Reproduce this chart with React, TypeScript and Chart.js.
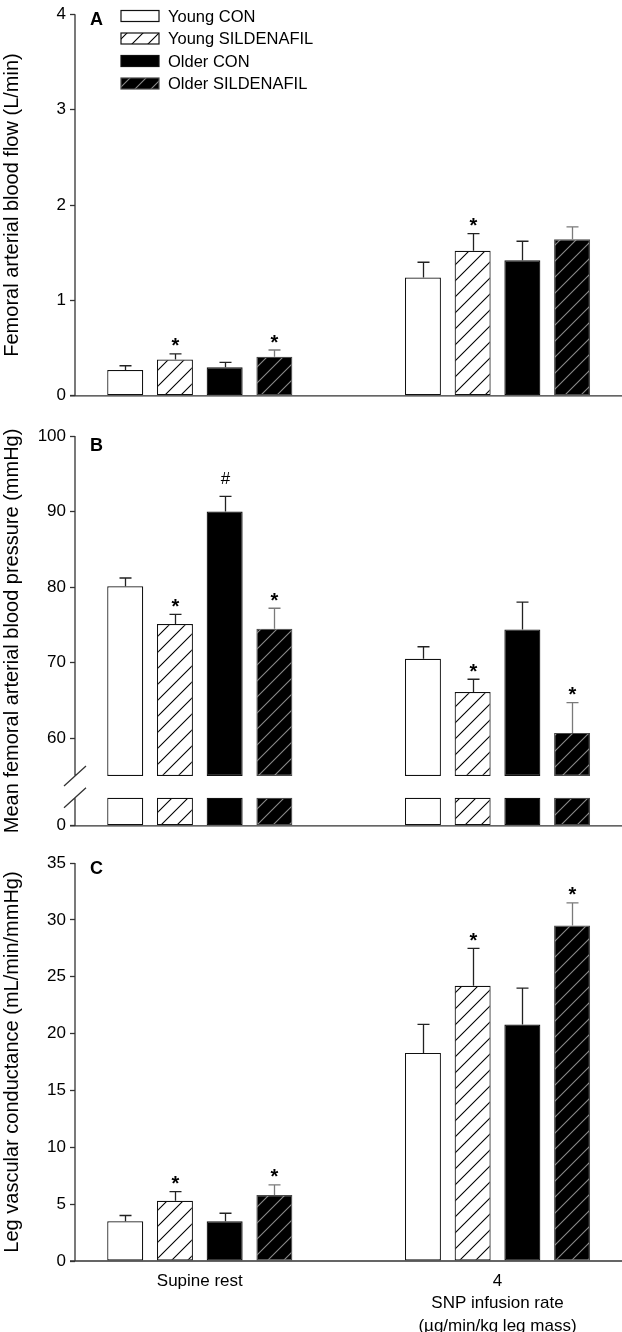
import React, { useEffect, useRef } from 'react';
import { Chart, registerables } from 'chart.js';

Chart.register(...registerables);

const FONT = '"Liberation Sans", Arial, Helvetica, sans-serif';

// ---- data ----
const groupPositions = [1, 2];
const groupLabels = ['Supine rest', '4'];
const xAxisTitle = ['SNP infusion rate', '(µg/min/kg leg mass)'];
const seriesNames = ['Young CON', 'Young SILDENAFIL', 'Older CON', 'Older SILDENAFIL'];

// Panel A: femoral arterial blood flow (L/min); rows = series, cols = groups
const flowMean = [[0.27, 1.24], [0.38, 1.52], [0.3, 1.42], [0.41, 1.64]];
const flowSem = [[0.045, 0.16], [0.06, 0.18], [0.05, 0.2], [0.07, 0.13]];
const flowMarks = [['', ''], ['*', '*'], ['', ''], ['*', '']];
const flowTicks = [0, 1, 2, 3, 4];

// Panel B: mean femoral arterial blood pressure (mmHg)
const pressureMean = [[80.1, 70.5], [75.1, 66.1], [90.0, 74.4], [74.5, 60.7]];
const pressureSem = [[1.1, 1.6], [1.3, 1.7], [2.0, 3.6], [2.7, 4.0]];
const pressureMarks = [['', ''], ['*', '*'], ['#', ''], ['*', '*']];
const pressureTicks = [0, 60, 70, 80, 90, 100];

// Panel C: leg vascular conductance (mL/min/mmHg)
const conductanceMean = [[3.5, 18.3], [5.3, 24.2], [3.5, 20.8], [5.8, 29.5]];
const conductanceSem = [[0.5, 2.5], [0.8, 3.3], [0.7, 3.2], [0.9, 2.0]];
const conductanceMarks = [['', ''], ['*', '*'], ['', ''], ['*', '*']];
const conductanceTicks = [0, 5, 10, 15, 20, 25, 30, 35];

// ---- broken axis configuration for panel B (display units) ----
const BP_BREAK_FROM = 55; // upper segment starts at this value
const BP_UPPER_AT = 6.6; // display position of the upper segment start
const BP_STUB_TOP = 3.7; // display height of the lower stub
const BP_SHIFT = BP_BREAK_FROM - BP_UPPER_AT;

// ---- layout / style ----
const X_MIN = 0.5808;
const X_MAX = 2.4182;
const CAT_PCT = 0.668;
const BAR_PCT = 0.724;
const TICK_SIZE = 17;
const TITLE_SIZE = 20;
const seriesBorders = ['#111111', '#111111', '#111111', '#4a4a4a'];
const errColors = ['#222222', '#222222', '#222222', '#7a7a7a'];
const legendRows = [16, 38.5, 61, 83.5];

function hatch(ctx: CanvasRenderingContext2D, bg: string, fg: string) {
  const c = document.createElement('canvas');
  c.width = 16;
  c.height = 16;
  const g = c.getContext('2d')!;
  g.fillStyle = bg;
  g.fillRect(0, 0, 16, 16);
  g.strokeStyle = fg;
  g.lineWidth = 1.1;
  g.beginPath();
  g.moveTo(-2, 18);
  g.lineTo(18, -2);
  g.moveTo(-2, 2);
  g.lineTo(2, -2);
  g.moveTo(14, 18);
  g.lineTo(18, 14);
  g.stroke();
  return ctx.createPattern(c, 'repeat')!;
}

type Spec = {
  letter: string;
  letterY: number;
  title: string;
  mean: number[][];
  sem: number[][];
  marks: string[][];
  ticks: number[];
  max: number;
  broken?: boolean;
  showX?: boolean;
  legend?: boolean;
  padTop: number;
  padBottom: number;
};

function makePanel(canvas: HTMLCanvasElement, spec: Spec) {
  const ctx = canvas.getContext('2d')!;
  const fills: any[] = ['#ffffff', hatch(ctx, '#ffffff', '#000000'), '#000000', hatch(ctx, '#000000', '#8a8a8a')];
  const disp = (v: number) => (spec.broken ? (v === 0 ? 0 : v - BP_SHIFT) : v);
  const datasets: any[] = [];
  const mainIndex: number[] = [];
  seriesNames.forEach((name, s) => {
    const common = {
      label: name,
      backgroundColor: fills[s],
      borderColor: seriesBorders[s],
      borderWidth: 1.2,
      borderSkipped: false,
      categoryPercentage: CAT_PCT,
      barPercentage: BAR_PCT,
      stack: 'S' + s,
    };
    if (spec.broken) {
      datasets.push({ ...common, data: groupPositions.map((x) => ({ x, y: BP_STUB_TOP })) });
      datasets.push({
        ...common,
        backgroundColor: 'rgba(0,0,0,0)',
        borderWidth: 0,
        data: groupPositions.map((x) => ({ x, y: BP_UPPER_AT - BP_STUB_TOP })),
      });
      mainIndex.push(datasets.length);
      datasets.push({ ...common, data: groupPositions.map((x, j) => ({ x, y: spec.mean[s][j] - BP_BREAK_FROM })) });
    } else {
      mainIndex.push(datasets.length);
      datasets.push({ ...common, data: groupPositions.map((x, j) => ({ x, y: spec.mean[s][j] })) });
    }
  });

  const errPlugin = {
    id: 'errbars',
    afterDatasetsDraw(chart: any) {
      const c = chart.ctx as CanvasRenderingContext2D;
      const y = chart.scales.y;
      seriesNames.forEach((_, s) => {
        const meta = chart.getDatasetMeta(mainIndex[s]);
        meta.data.forEach((el: any, j: number) => {
          const top = y.getPixelForValue(disp(spec.mean[s][j] + spec.sem[s][j]));
          const x = Math.round(el.x) + 0.5;
          c.save();
          c.strokeStyle = errColors[s];
          c.lineWidth = 1.3;
          c.beginPath();
          c.moveTo(x, el.y);
          c.lineTo(x, top);
          c.moveTo(x - 6, top);
          c.lineTo(x + 6, top);
          c.stroke();
          const m = spec.marks[s][j];
          if (m) {
            c.fillStyle = '#000';
            c.textAlign = 'center';
            c.textBaseline = 'alphabetic';
            if (m === '*') {
              c.font = `bold 20px ${FONT}`;
              c.fillText(m, x, top - 1.5);
            } else {
              c.font = `17px ${FONT}`;
              c.fillText(m, x, top - 12);
            }
          }
          c.restore();
        });
      });
    },
  };

  const axesPlugin = {
    id: 'axesdeco',
    afterDraw(chart: any) {
      const c = chart.ctx as CanvasRenderingContext2D;
      const a = chart.chartArea;
      const y = chart.scales.y;
      c.save();
      c.strokeStyle = '#333';
      c.lineWidth = 1.3;
      c.beginPath();
      c.moveTo(a.left - 5, a.bottom);
      c.lineTo(a.right, a.bottom);
      if (spec.broken) {
        const hi = y.getPixelForValue(BP_UPPER_AT);
        const lo = y.getPixelForValue(BP_STUB_TOP);
        c.moveTo(a.left, a.top);
        c.lineTo(a.left, hi);
        c.moveTo(a.left, lo);
        c.lineTo(a.left, a.bottom);
        for (const p of [hi, lo]) {
          c.moveTo(a.left - 11, p + 10);
          c.lineTo(a.left + 11, p - 10);
        }
      } else {
        c.moveTo(a.left, a.top);
        c.lineTo(a.left, a.bottom);
      }
      c.stroke();
      c.fillStyle = '#000';
      c.font = `bold 18px ${FONT}`;
      c.textAlign = 'left';
      c.textBaseline = 'middle';
      c.fillText(spec.letter, 90, spec.letterY);
      if (spec.legend) {
        c.font = `16.5px ${FONT}`;
        seriesNames.forEach((name, s) => {
          const yc = legendRows[s];
          c.fillStyle = fills[s];
          c.fillRect(121, yc - 5.5, 38, 11);
          c.strokeStyle = seriesBorders[s];
          c.lineWidth = 1.2;
          c.strokeRect(121, yc - 5.5, 38, 11);
          c.fillStyle = '#000';
          c.fillText(name, 168, yc + 1);
        });
      }
      c.restore();
    },
  };

  return new Chart(canvas, {
    type: 'bar',
    data: { datasets },
    options: {
      responsive: false,
      animation: false,
      devicePixelRatio: 1,
      events: [],
      layout: { padding: { top: spec.padTop, bottom: spec.padBottom, left: 0, right: 0 } },
      plugins: { legend: { display: false }, tooltip: { enabled: false } },
      scales: {
        x: {
          type: 'linear',
          min: X_MIN,
          max: X_MAX,
          bounds: 'data',
          offset: false,
          display: !!spec.showX,
          grid: { display: false },
          border: { display: false },
          afterBuildTicks: (sc: any) => {
            sc.ticks = groupPositions.map((v) => ({ value: v }));
          },
          afterFit: (sc: any) => {
            if (spec.showX) sc.height = 71;
          },
          ticks: {
            autoSkip: false,
            maxRotation: 0,
            padding: 1,
            color: '#000',
            font: { family: FONT, size: TICK_SIZE, lineHeight: 1.32 },
            callback: (_v: any, i: number) => (i === 1 ? [groupLabels[1], ...xAxisTitle] : groupLabels[i]),
          },
        } as any,
        y: {
          type: 'linear',
          min: 0,
          max: disp(spec.max),
          bounds: 'data',
          stacked: !!spec.broken,
          position: 'left',
          afterBuildTicks: (sc: any) => {
            sc.ticks = spec.ticks.map((v) => ({ value: disp(v) }));
          },
          afterFit: (sc: any) => {
            sc.width = 75;
          },
          grid: { drawOnChartArea: false, drawTicks: true, tickLength: 5, tickColor: '#333', tickWidth: 1.3 },
          border: { display: false },
          ticks: {
            padding: 4,
            color: '#000',
            font: { family: FONT, size: TICK_SIZE },
            callback: (_v: any, i: number) => String(spec.ticks[i]),
          },
          title: {
            display: true,
            text: spec.title,
            color: '#000',
            font: { family: FONT, size: TITLE_SIZE, lineHeight: 1.2 },
            padding: { top: 0, bottom: 0 },
          },
        } as any,
      },
    },
    plugins: [errPlugin, axesPlugin],
  } as any);
}

export default function App() {
  const refA = useRef<HTMLCanvasElement>(null);
  const refB = useRef<HTMLCanvasElement>(null);
  const refC = useRef<HTMLCanvasElement>(null);

  useEffect(() => {
    Chart.defaults.font.family = FONT;
    Chart.defaults.color = '#000';
    const charts = [
      makePanel(refA.current!, {
        letter: 'A',
        letterY: 20,
        title: 'Femoral arterial blood flow (L/min)',
        mean: flowMean,
        sem: flowSem,
        marks: flowMarks,
        ticks: flowTicks,
        max: 4,
        legend: true,
        padTop: 7,
        padBottom: 11,
      }),
      makePanel(refB.current!, {
        letter: 'B',
        letterY: 36,
        title: 'Mean femoral arterial blood pressure (mmHg)',
        mean: pressureMean,
        sem: pressureSem,
        marks: pressureMarks,
        ticks: pressureTicks,
        max: 100,
        broken: true,
        padTop: 26,
        padBottom: 12,
      }),
      makePanel(refC.current!, {
        letter: 'C',
        letterY: 29,
        title: 'Leg vascular conductance (mL/min/mmHg)',
        mean: conductanceMean,
        sem: conductanceSem,
        marks: conductanceMarks,
        ticks: conductanceTicks,
        max: 35,
        showX: true,
        padTop: 23,
        padBottom: 0,
      }),
    ];
    return () => charts.forEach((c) => c.destroy());
  }, []);

  return (
    <div style={{ position: 'absolute', left: 0, top: 0, width: 622, height: 1332, background: '#fff' }}>
      <canvas ref={refA} width={622} height={410} style={{ position: 'absolute', left: 0, top: 0 }} />
      <canvas ref={refB} width={622} height={430} style={{ position: 'absolute', left: 0, top: 410 }} />
      <canvas ref={refC} width={622} height={492} style={{ position: 'absolute', left: 0, top: 840 }} />
    </div>
  );
}
